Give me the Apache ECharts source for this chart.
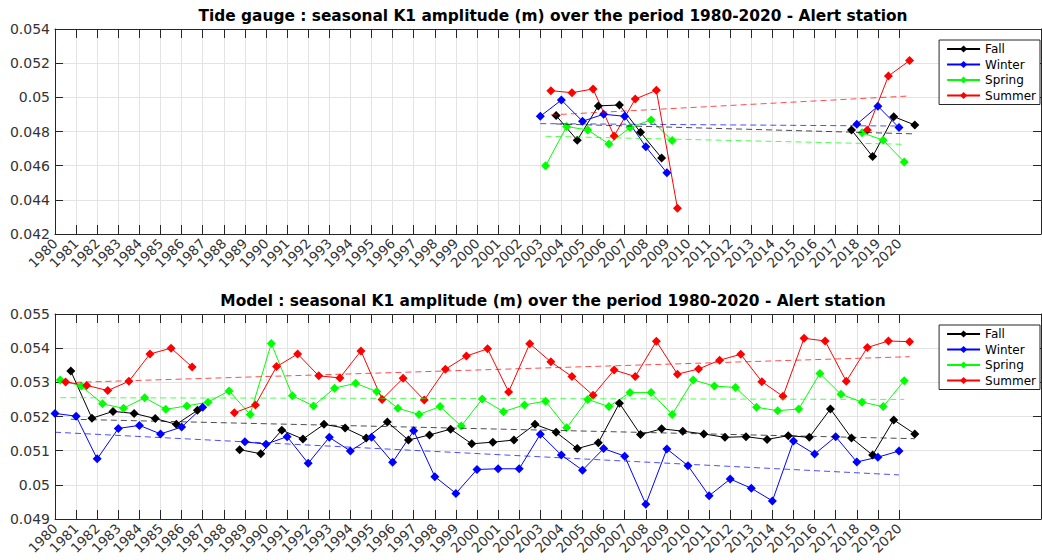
<!DOCTYPE html>
<html>
<head>
<meta charset="utf-8">
<script src="https://cdn.jsdelivr.net/npm/echarts@6/dist/echarts.min.js"></script>
<style>
  html, body { margin: 0; padding: 0; background: #ffffff; }
  #chart { width: 1042px; height: 560px; }
</style>
</head>
<body>
<div id="chart"></div>
<script>
// Seasons, in legend order, with the colour and the fraction of the year where each is plotted
const seasons = ['Fall', 'Winter', 'Spring', 'Summer'];
const seasonColors = ['#000000', '#0000ff', '#00ff00', '#ff0000'];
const seasonOffsets = [0.75, 0, 0.25, 0.5];

// Year ticks shown on the x axes
const tickYears = [1980, 1981, 1982, 1983, 1984, 1985, 1986, 1987, 1988, 1989,
  1990, 1991, 1992, 1993, 1994, 1995, 1996, 1997, 1998, 1999,
  2000, 2001, 2002, 2003, 2004, 2005, 2006, 2007, 2008, 2009,
  2010, 2011, 2012, 2013, 2014, 2015, 2016, 2017, 2018, 2019, 2020];

// Tide gauge: seasonal K1 amplitude (m), Alert station
const gaugeYears = [2003, 2004, 2005, 2006, 2007, 2008, 2009, 2010, 2011,
  2012, 2013, 2014, 2015, 2016, 2017, 2018, 2019, 2020];
const gaugeFall   = [0.04893, 0.04749, 0.04950, 0.04955, 0.04795, 0.04645, null, null, null,
  null, null, null, null, null, 0.04809, 0.04653, 0.04887, 0.04838];
const gaugeWinter = [0.04889, 0.04984, 0.04860, 0.04901, 0.04889, 0.04711, 0.04558, null, null,
  null, null, null, null, null, null, 0.04842, 0.04948, 0.04823];
const gaugeSpring = [0.04599, 0.04829, 0.04809, 0.04727, 0.04823, 0.04868, 0.04747, null, null,
  null, null, null, null, null, null, 0.04793, 0.04749, 0.04622];
const gaugeSummer = [0.05039, 0.05027, 0.05049, 0.04774, 0.04990, 0.05041, 0.04351, null, null,
  null, null, null, null, null, null, 0.04809, 0.05125, 0.05215];
// Linear trend of each season (value at first and last year), Fall/Winter/Spring/Summer
const gaugeTrendStart = [0.04844, 0.04846, 0.04772, 0.04897];
const gaugeTrendEnd   = [0.04786, 0.04832, 0.04725, 0.05008];

// Model: seasonal K1 amplitude (m), Alert station
const modelYears = tickYears;
const modelFall = [0.05333, 0.05195, 0.05215, 0.05209, 0.05194, 0.05177, 0.05218, null, 0.05103, 0.05091,
  0.05160, 0.05134, 0.05177, 0.05166, 0.05137, 0.05184, 0.05131, 0.05146, 0.05163, 0.05120,
  0.05125, 0.05131, 0.05177, 0.05154, 0.05106, 0.05123, 0.05239, 0.05147, 0.05164, 0.05157,
  0.05149, 0.05139, 0.05141, 0.05133, 0.05144, 0.05139, 0.05222, 0.05137, 0.05087, 0.05190, 0.05149];
const modelWinter = [0.05209, 0.05201, 0.05076, 0.05165, 0.05174, 0.05149, 0.05169, 0.05227, null, 0.05126,
  0.05119, 0.05141, 0.05063, 0.05139, 0.05099, 0.05139, 0.05066, 0.05158, 0.05024, 0.04975,
  0.05045, 0.05047, 0.05047, 0.05148, 0.05087, 0.05043, 0.05106, 0.05084, 0.04943, 0.05105,
  0.05056, 0.04968, 0.05017, 0.04990, 0.04953, 0.05128, 0.05090, 0.05141, 0.05067, 0.05081, 0.05099];
const modelSpring = [0.05307, 0.05289, 0.05237, 0.05224, 0.05255, 0.05221, 0.05231, 0.05242, 0.05275, 0.05206,
  0.05414, 0.05261, 0.05231, 0.05283, 0.05297, 0.05273, 0.05224, 0.05206, 0.05229, 0.05172,
  0.05251, 0.05214, 0.05234, 0.05245, 0.05167, 0.05250, 0.05229, 0.05270, 0.05270, 0.05206,
  0.05307, 0.05289, 0.05285, 0.05227, 0.05217, 0.05222, 0.05326, 0.05265, 0.05242, 0.05229, 0.05305];
const modelSummer = [0.05301, 0.05291, 0.05276, 0.05303, 0.05383, 0.05400, 0.05345, null, 0.05211, 0.05234,
  0.05346, 0.05383, 0.05319, 0.05313, 0.05392, 0.05250, 0.05312, 0.05248, 0.05338, 0.05377,
  0.05398, 0.05272, 0.05413, 0.05360, 0.05317, 0.05262, 0.05336, 0.05317, 0.05420, 0.05324,
  0.05339, 0.05365, 0.05382, 0.05302, 0.05259, 0.05429, 0.05421, 0.05303, 0.05402, 0.05421, 0.05419];
const modelTrendStart = [0.05192, 0.05154, 0.05255, 0.05299];
const modelTrendEnd   = [0.05135, 0.05029, 0.05250, 0.05375];

const gaugeTitle = 'Tide gauge : seasonal K1 amplitude (m) over the period 1980-2020 - Alert station';
const modelTitle = 'Model : seasonal K1 amplitude (m) over the period 1980-2020 - Alert station';

const FONT = "'DejaVu Sans', sans-serif";
const AXIS_COLOR = '#262626';
const GRID_COLOR = '#e3e3e3';
const LABEL_COLOR = '#333333';
const X_MIN = 1980;
const X_MAX = 2026.73;
const PLOT_LEFT = 55;
const PX_PER_YEAR = 21.1;

const panels = [
  { years: gaugeYears, values: [gaugeFall, gaugeWinter, gaugeSpring, gaugeSummer],
    trendStart: gaugeTrendStart, trendEnd: gaugeTrendEnd,
    yMin: 0.042, yMax: 0.054, yStep: 0.002, top: 29, title: gaugeTitle, titleY: 15.5, legendTop: 40 },
  { years: modelYears, values: [modelFall, modelWinter, modelSpring, modelSummer],
    trendStart: modelTrendStart, trendEnd: modelTrendEnd,
    yMin: 0.049, yMax: 0.055, yStep: 0.001, top: 314, title: modelTitle, titleY: 300.5, legendTop: 325 }
];
const PANEL_HEIGHT = 205;

const grids = [], xAxes = [], yAxes = [], series = [], legends = [], texts = [];
const lastTick = tickYears[tickYears.length - 1];

panels.forEach((p, gi) => {
  grids.push({ left: PLOT_LEFT, right: 1, top: p.top, height: PANEL_HEIGHT, containLabel: false });

  // bottom axis with year labels, top axis for the box ticks
  xAxes.push({
    type: 'value', gridIndex: gi, position: 'bottom', min: X_MIN, max: X_MAX, interval: 1,
    axisLine: { show: true, onZero: false, lineStyle: { color: AXIS_COLOR, width: 1 } },
    axisTick: { show: true, inside: true, length: 9, customValues: tickYears, lineStyle: { color: AXIS_COLOR } },
    axisLabel: { show: true, customValues: tickYears, rotate: 45, margin: 7, fontSize: 13.5,
      fontFamily: FONT, color: LABEL_COLOR, formatter: v => String(Math.round(v)) },
    splitLine: { show: false }
  });
  xAxes.push({
    type: 'value', gridIndex: gi, position: 'top', min: X_MIN, max: X_MAX, interval: 1,
    axisLine: { show: true, onZero: false, lineStyle: { color: AXIS_COLOR, width: 1 } },
    axisTick: { show: true, inside: true, length: 9, customValues: tickYears, lineStyle: { color: AXIS_COLOR } },
    axisLabel: { show: false }, splitLine: { show: false }
  });
  yAxes.push({
    type: 'value', gridIndex: gi, position: 'left', min: p.yMin, max: p.yMax, interval: p.yStep,
    axisLine: { show: true, onZero: false, lineStyle: { color: AXIS_COLOR, width: 1 } },
    axisTick: { show: true, inside: true, length: 8, lineStyle: { color: AXIS_COLOR } },
    axisLabel: { show: true, margin: 5, fontSize: 14, fontFamily: FONT, color: LABEL_COLOR,
      formatter: v => String(+v.toFixed(4)) },
    splitLine: { show: true, lineStyle: { color: GRID_COLOR, width: 1 } }
  });
  yAxes.push({
    type: 'value', gridIndex: gi, position: 'right', min: p.yMin, max: p.yMax, interval: p.yStep,
    axisLine: { show: true, onZero: false, lineStyle: { color: AXIS_COLOR, width: 1 } },
    axisTick: { show: true, inside: true, length: 8, lineStyle: { color: AXIS_COLOR } },
    axisLabel: { show: false }, splitLine: { show: false }
  });

  const xi = gi * 2, yi = gi * 2;

  // seasonal amplitude, one point per year at the season's position within the year
  seasons.forEach((name, si) => {
    const vals = p.values[si];
    series.push({
      name, type: 'line', xAxisIndex: xi, yAxisIndex: yi,
      data: p.years.map((yr, k) => [yr + seasonOffsets[si], vals[k] == null ? '-' : vals[k]]),
      connectNulls: false,
      symbol: 'diamond', symbolSize: 9, showSymbol: true,
      itemStyle: { color: seasonColors[si] },
      lineStyle: { color: seasonColors[si], width: 1 },
      emphasis: { disabled: true }, z: 3
    });
  });

  // dashed linear trend of each season over its observed span
  seasons.forEach((name, si) => {
    const vals = p.values[si];
    let first = -1, last = -1;
    vals.forEach((v, k) => { if (v != null) { if (first < 0) first = k; last = k; } });
    series.push({
      name: name + ' trend', type: 'line', xAxisIndex: xi, yAxisIndex: yi,
      data: [[p.years[first] + seasonOffsets[si], p.trendStart[si]],
             [p.years[last] + seasonOffsets[si], p.trendEnd[si]]],
      symbol: 'none', silent: true,
      lineStyle: { color: seasonColors[si], width: 1, type: [6, 4], opacity: 0.7 },
      emphasis: { disabled: true }, z: 4
    });
  });

  legends.push({
    data: seasons, orient: 'vertical', right: 2, top: p.legendTop,
    backgroundColor: '#ffffff', borderColor: AXIS_COLOR, borderWidth: 1, borderRadius: 0,
    padding: [3, 4, 3, 7], itemGap: 3.5, itemWidth: 33, itemHeight: 9,
    textStyle: { fontSize: 12, fontFamily: FONT, color: '#000000' },
    selectedMode: false
  });

  texts.push({
    type: 'text', x: 553, y: p.titleY, silent: true,
    style: { text: p.title, align: 'center', verticalAlign: 'middle',
      font: "bold 15.4px 'DejaVu Sans', sans-serif", fill: '#000000' }
  });
});

// vertical grid lines at the labelled years only (1980 to 2020)
panels.forEach((p, gi) => {
  const bi = grids.length;
  grids.push({ left: PLOT_LEFT, width: (lastTick - X_MIN) * PX_PER_YEAR, top: p.top, height: PANEL_HEIGHT, z: 0 });
  xAxes.push({
    type: 'value', gridIndex: bi, min: X_MIN, max: lastTick, interval: 1, z: 0,
    axisLine: { show: false }, axisTick: { show: false }, axisLabel: { show: false },
    splitLine: { show: true, lineStyle: { color: GRID_COLOR, width: 1 } }
  });
  yAxes.push({
    type: 'value', gridIndex: bi, min: p.yMin, max: p.yMax, interval: p.yStep, z: 0,
    axisLine: { show: false }, axisTick: { show: false }, axisLabel: { show: false },
    splitLine: { show: false }
  });
});

const chart = echarts.init(document.getElementById('chart'), null, { renderer: 'svg' });
chart.setOption({
  animation: false,
  backgroundColor: '#ffffff',
  grid: grids,
  xAxis: xAxes,
  yAxis: yAxes,
  legend: legends,
  series: series,
  graphic: texts
});
</script>
</body>
</html>
